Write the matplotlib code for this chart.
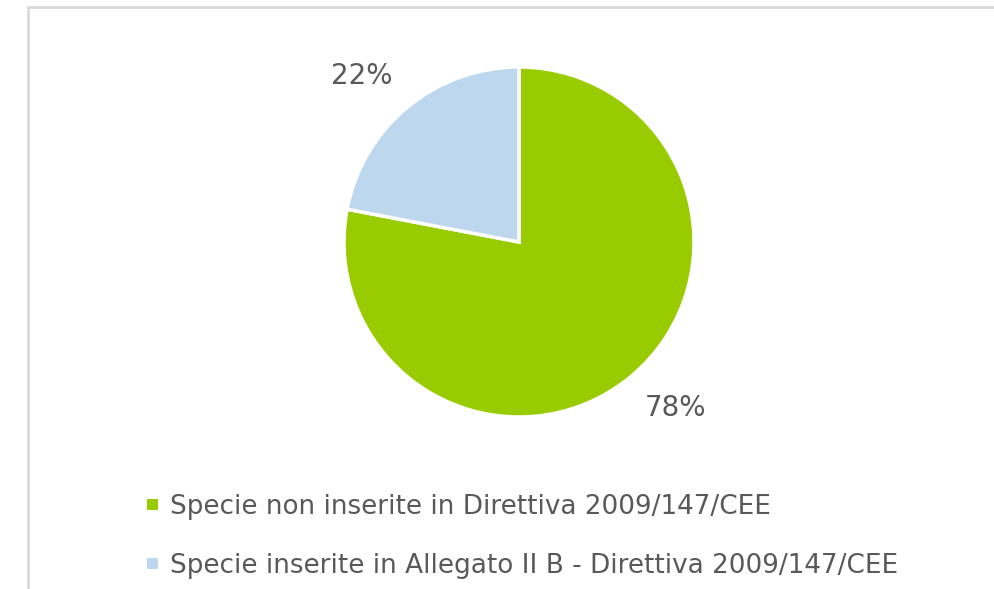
import numpy as np
import matplotlib
matplotlib.use("Agg")
import matplotlib.pyplot as plt
from matplotlib.patches import Rectangle

categories = [
    "Specie non inserite in Direttiva 2009/147/CEE",
    "Specie inserite in Allegato II B - Direttiva 2009/147/CEE",
]
shares = [78, 22]
colors = ["#99cc00", "#bdd7ee"]
text_color = "#595959"

plt.rcParams["font.family"] = ["DejaVu Sans"]

W, H = 994, 589
fig = plt.figure(figsize=(W / 100, H / 100), dpi=100)
fig.patch.set_facecolor("white")

# chart frame
fig.patches.append(Rectangle((28 / W, -0.05), 1.2, (H - 7) / H + 0.05,
                             transform=fig.transFigure, fill=False,
                             edgecolor="#d9d9d9", linewidth=2))

cx, cy, r = 519, 242, 175
ax = fig.add_axes([(cx - r) / W, (H - cy - r) / H, 2 * r / W, 2 * r / H])
wedges, _ = ax.pie(
    shares, colors=colors, startangle=90, counterclock=False, radius=1,
    wedgeprops=dict(edgecolor="white", linewidth=2.5),
)
ax.set_xlim(-1, 1)
ax.set_ylim(-1, 1)
ax.set_aspect("equal")
ax.axis("off")

# percentage labels just outside each slice, anchored by their nearest corner
for w, v in zip(wedges, shares):
    mid = np.deg2rad((w.theta1 + w.theta2) / 2)
    x, y = 1.13 * np.cos(mid), 1.13 * np.sin(mid)
    ha = "left" if x > 0 else "right"
    va = "bottom" if y > 0 else "top"
    ax.text(x, y, f"{v}%", ha=ha, va=va, color=text_color, fontsize=20)

# legend
leg_y = [504.5, 563]
for lab, col, y in zip(categories, colors, leg_y):
    fig.patches.append(Rectangle((146.5 / W, (H - y - 5.5) / H), 11 / W, 11 / H,
                                 transform=fig.transFigure, facecolor=col,
                                 edgecolor="none"))
    fig.text(170 / W, (H - y - 10) / H, lab, color=text_color, fontsize=18.9,
             va="baseline", ha="left")

fig.savefig("out.png", dpi=100, facecolor="white")
